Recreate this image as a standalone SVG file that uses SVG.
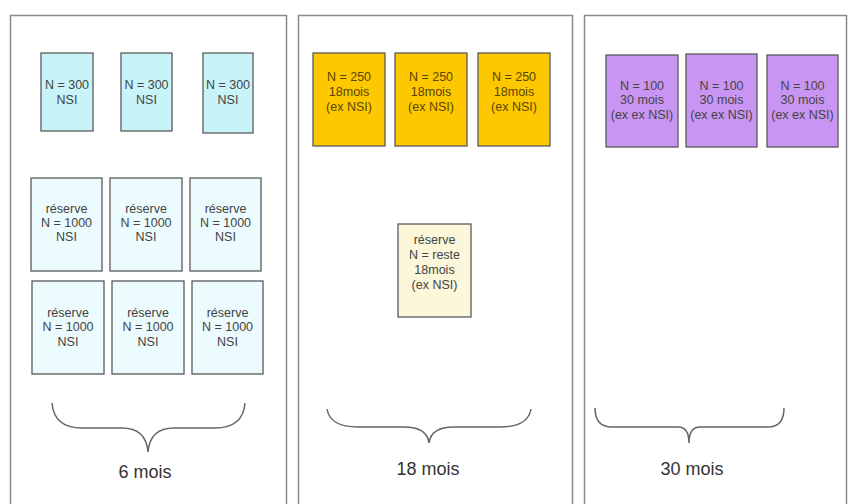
<svg xmlns="http://www.w3.org/2000/svg" width="848" height="504" viewBox="0 0 848 504">
<style>
.panel{fill:#fff;stroke:#8a8a8a;stroke-width:1.5}
.box{stroke:#5a5a5a;stroke-width:1.3}
.cy{fill:#c8f4f9}
.cyl{fill:#ecfbfd}
.or{fill:#fdc800}
.pu{fill:#c895f2}
.cr{fill:#fcf6da}
.t{font-family:"Liberation Sans",Arial,sans-serif;font-size:12.5px;fill:#444;text-anchor:middle}
.to{fill:#5a4500}
.lbl{font-family:"Liberation Sans",Arial,sans-serif;font-size:18px;fill:#333;text-anchor:middle}
.brace{fill:none;stroke:#666;stroke-width:1.5}
</style>
<rect width="848" height="504" fill="#fff"/>
<g id="panel-6mois">
<rect class="panel" x="10.5" y="15.5" width="276" height="500"/>
</g>
<g id="panel-18mois">
<rect class="panel" x="298.5" y="15.5" width="274" height="500"/>
</g>
<g id="panel-30mois">
<rect class="panel" x="584.5" y="15.5" width="262" height="500"/>
</g>
<g id="n300-1"><rect class="box cy" x="41" y="53" width="52" height="78"/><text class="t" x="67" y="89">N = 300</text><text class="t" x="67" y="104">NSI</text></g>
<g id="n300-2"><rect class="box cy" x="121" y="53" width="51" height="78"/><text class="t" x="146.5" y="89">N = 300</text><text class="t" x="146.5" y="104">NSI</text></g>
<g id="n300-3"><rect class="box cy" x="203" y="53" width="50" height="80"/><text class="t" x="228" y="89">N = 300</text><text class="t" x="228" y="104">NSI</text></g>
<g id="res1-1"><rect class="box cyl" x="31" y="178" width="71" height="93"/><text class="t" x="66.5" y="213">réserve</text><text class="t" x="66.5" y="227">N = 1000</text><text class="t" x="66.5" y="241">NSI</text></g>
<g id="res1-2"><rect class="box cyl" x="110" y="178" width="72" height="93"/><text class="t" x="146" y="213">réserve</text><text class="t" x="146" y="227">N = 1000</text><text class="t" x="146" y="241">NSI</text></g>
<g id="res1-3"><rect class="box cyl" x="190" y="178" width="71" height="93"/><text class="t" x="225.5" y="213">réserve</text><text class="t" x="225.5" y="227">N = 1000</text><text class="t" x="225.5" y="241">NSI</text></g>
<g id="res2-1"><rect class="box cyl" x="32" y="281" width="72" height="93"/><text class="t" x="68" y="317">réserve</text><text class="t" x="68" y="331">N = 1000</text><text class="t" x="68" y="346">NSI</text></g>
<g id="res2-2"><rect class="box cyl" x="112" y="281" width="72" height="93"/><text class="t" x="148" y="317">réserve</text><text class="t" x="148" y="331">N = 1000</text><text class="t" x="148" y="346">NSI</text></g>
<g id="res2-3"><rect class="box cyl" x="192" y="281" width="71" height="93"/><text class="t" x="227.5" y="317">réserve</text><text class="t" x="227.5" y="331">N = 1000</text><text class="t" x="227.5" y="346">NSI</text></g>
<g id="n250-1"><rect class="box or" x="313" y="53" width="72" height="93"/><text class="t to" x="349" y="81">N = 250</text><text class="t to" x="349" y="96">18mois</text><text class="t to" x="349" y="111">(ex NSI)</text></g>
<g id="n250-2"><rect class="box or" x="395" y="53" width="72" height="93"/><text class="t to" x="431" y="81">N = 250</text><text class="t to" x="431" y="96">18mois</text><text class="t to" x="431" y="111">(ex NSI)</text></g>
<g id="n250-3"><rect class="box or" x="478" y="53" width="72" height="93"/><text class="t to" x="514" y="81">N = 250</text><text class="t to" x="514" y="96">18mois</text><text class="t to" x="514" y="111">(ex NSI)</text></g>
<g id="res-18"><rect class="box cr" x="398" y="224" width="73" height="93"/><text class="t" x="434.5" y="244">réserve</text><text class="t" x="434.5" y="259">N = reste</text><text class="t" x="434.5" y="274">18mois</text><text class="t" x="434.5" y="289">(ex NSI)</text></g>
<g id="n100-1"><rect class="box pu" x="606" y="55" width="72" height="92"/><text class="t" x="642" y="90">N = 100</text><text class="t" x="642" y="104">30 mois</text><text class="t" x="642" y="119">(ex ex NSI)</text></g>
<g id="n100-2"><rect class="box pu" x="686" y="54" width="71" height="93"/><text class="t" x="721.5" y="90">N = 100</text><text class="t" x="721.5" y="104">30 mois</text><text class="t" x="721.5" y="119">(ex ex NSI)</text></g>
<g id="n100-3"><rect class="box pu" x="767" y="55" width="71" height="92"/><text class="t" x="802.5" y="90">N = 100</text><text class="t" x="802.5" y="104">30 mois</text><text class="t" x="802.5" y="119">(ex ex NSI)</text></g>
<g id="braces">
<path class="brace" d="M52,403 Q54,428 82,428 L122,428 Q146,428 148,452 Q150,428 174,428 L215,428 Q243,428 245,403"/>
<path class="brace" d="M327,409 Q330,427 358,427 L404,427 Q427,427 429,443 Q431,427 454,427 L500,427 Q528,427 531,409"/>
<path class="brace" d="M595,408 Q595,427 612,427 L678,427 Q689,427 689,443 Q689,427 700,427 L768,427 Q784,427 784,408"/>
</g>
<g id="labels">
<text class="lbl" x="145" y="478">6 mois</text>
<text class="lbl" x="428" y="475">18 mois</text>
<text class="lbl" x="692" y="475">30 mois</text>
</g>
</svg>
